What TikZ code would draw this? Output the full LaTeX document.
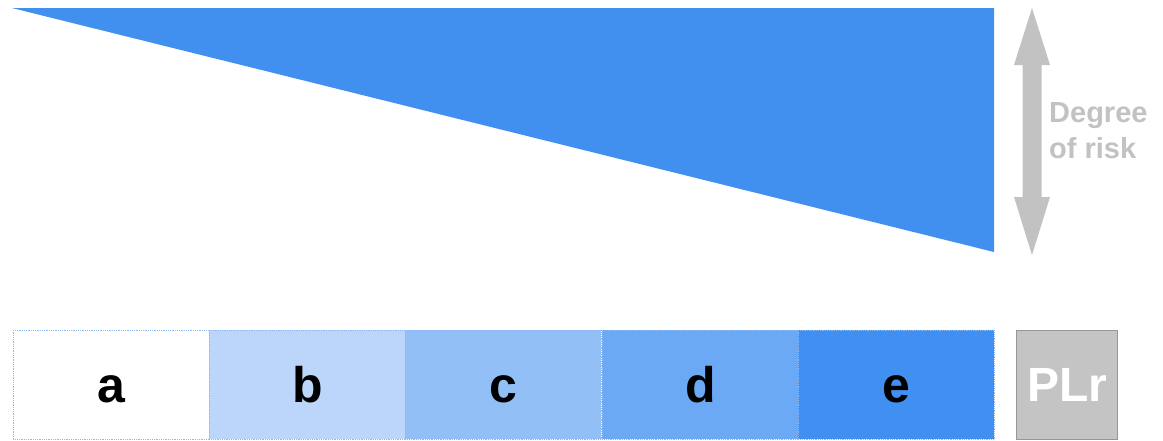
\documentclass[tikz,border=0pt]{standalone}
\usepackage{fontspec}
\setmainfont{Liberation Sans}
\begin{document}
\begin{tikzpicture}[x=1pt,y=-1pt,
  bar/.style={draw=blueborder, densely dotted, line width=0.8pt, minimum width=196pt, minimum height=109pt, inner sep=0pt, text height=36pt, text depth=0pt, anchor=north west, font=\bfseries\fontsize{50}{50}\selectfont, text=black},
]
\definecolor{tri}{HTML}{4190F0}
\definecolor{blueborder}{HTML}{8DB8F2}
\definecolor{cb}{HTML}{BBD6FA}
\definecolor{cc}{HTML}{93BFF7}
\definecolor{cd}{HTML}{6BA9F4}
\definecolor{ce}{HTML}{418FF0}
\definecolor{riskgray}{HTML}{C2C2C2}
\definecolor{plrfill}{HTML}{C4C4C4}
\definecolor{plrborder}{HTML}{979797}
\useasboundingbox[fill=white] (0,0) rectangle (1163,440);
% risk wedge
\fill[tri] (12,8) -- (994,8) -- (994,252) -- cycle;
% double arrow
\fill[riskgray] (1032,8) -- (1050,65) -- (1041.5,65) -- (1041.5,197) -- (1050,197) -- (1032,255)
  -- (1014,197) -- (1022.5,197) -- (1022.5,65) -- (1014,65) -- cycle;
\node[anchor=north west, align=left, text=riskgray, font=\bfseries\fontsize{29}{36}\selectfont, inner sep=0pt] (risk) at (1049,102) {Degree\\of risk};
% bars
\node[bar, fill=white] (a) at (13,330) {a};
\node[bar, fill=cb] (b) at (209,330) {b};
\node[bar, fill=cc] (c) at (405,330) {c};
\node[bar, fill=cd] (d) at (602,330) {d};
\node[bar, fill=ce] (e) at (798,330) {e};
\node[draw=plrborder, line width=1.2pt, fill=plrfill, minimum width=101pt, minimum height=109pt, inner sep=0pt, anchor=north west, text=white, font=\bfseries\fontsize{48}{48}\selectfont] (plr) at (1016,330) {PLr};
\end{tikzpicture}
\end{document}
